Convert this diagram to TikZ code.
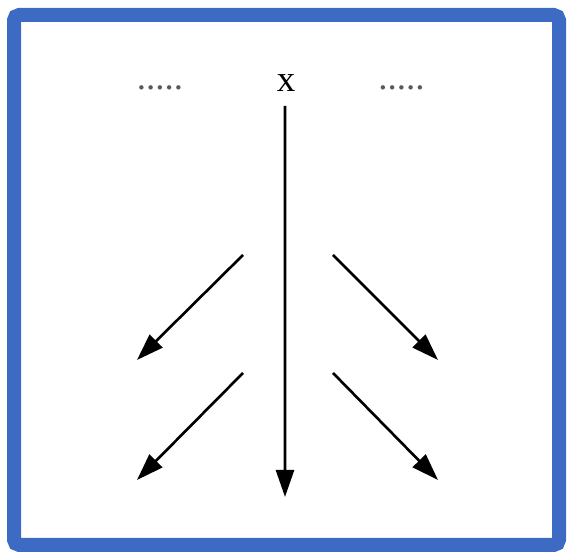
\documentclass[tikz,border=0pt]{standalone}
\usepackage{fontspec}
\setmainfont{Liberation Serif}
\usepackage{tikz}
\usetikzlibrary{arrows.meta,positioning,calc}
\definecolor{frameblue}{RGB}{61,107,196}

\begin{document}
\begin{tikzpicture}[>={Triangle[length=5.4mm,width=3.6mm]},
   lbl/.style={inner sep=0pt,font=\fontsize{21}{25}\selectfont},
   dotsty/.style={lbl,text=black!65},
   arr/.style={->,line width=1.5pt}]
  \useasboundingbox (0,0) rectangle (11.34,11.04);
  % frame
  \draw[frameblue,line width=0.28cm,rounded corners=3pt] (0.28,0.14) rectangle (11.18,10.74);
  % top labels
  \node[lbl] (x) at (5.72,9.38) {x};
  \node[dotsty] (dotsl) at (3.2,9.28) {.....};
  \node[dotsty] (dotsr) at (8.03,9.28) {.....};
  % end points
  \coordinate (xend) at (5.7,1.1);
  \coordinate (l1a) at (4.86,5.94);  \coordinate (l1b) at (2.74,3.84);
  \coordinate (l2a) at (4.86,3.58);  \coordinate (l2b) at (2.74,1.44);
  \coordinate (r1a) at (6.66,5.94);  \coordinate (r1b) at (8.76,3.84);
  \coordinate (r2a) at (6.66,3.58);  \coordinate (r2b) at (8.76,1.44);
  % arrows
  \draw[arr] (x.south) ++(-0.02,-0.28) coordinate (xstart) -- (xend);
  \draw[arr] (l1a) -- (l1b);
  \draw[arr] (l2a) -- (l2b);
  \draw[arr] (r1a) -- (r1b);
  \draw[arr] (r2a) -- (r2b);
\end{tikzpicture}
\end{document}
